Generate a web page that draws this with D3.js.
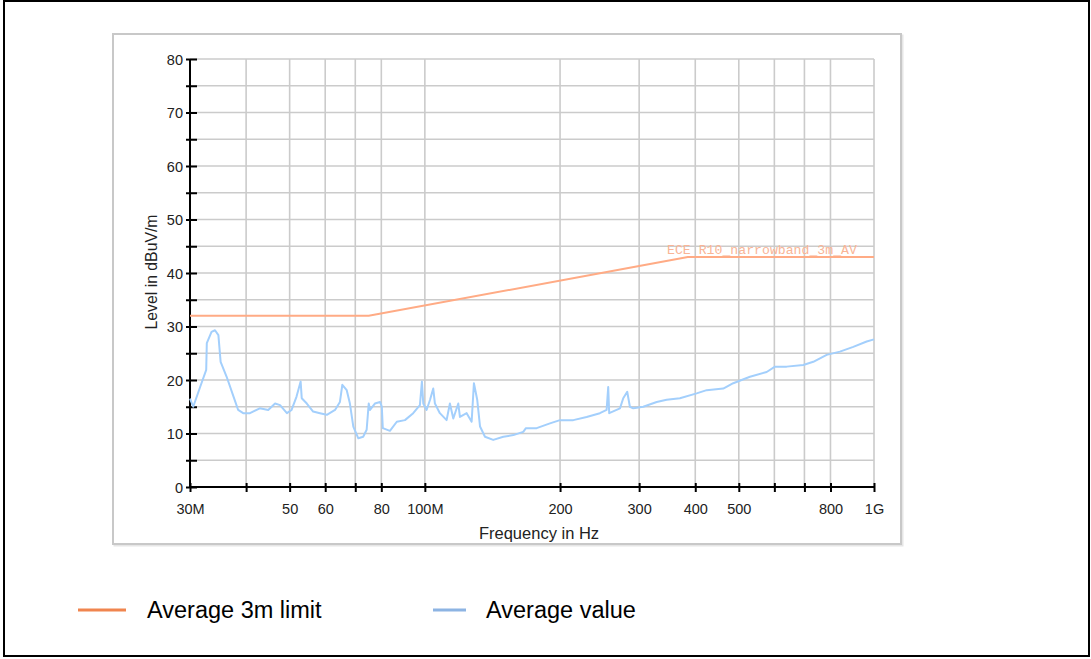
<!DOCTYPE html>
<html>
<head>
<meta charset="utf-8">
<script src="https://cdn.jsdelivr.net/npm/d3@7"></script>
<style>
  body { margin: 0; background: #fff; }
  svg { display: block; font-family: Arial, "Liberation Sans", sans-serif; }
</style>
</head>
<body>
<svg id="chart" width="1091" height="659"></svg>
<script>
// frequency in MHz / level in dBuV/m
var avgFreq = [30, 30.5, 31.6, 32.6, 32.7, 33.5, 34.1, 34.7, 35.1, 36.2, 37.5, 38.4, 39.4, 40.8, 42.9, 44.8,
  46.4, 47.6, 49.3, 50.5, 51.8, 52.9, 53.2, 54.6, 56.4, 58.4, 60.5, 63.1, 64.7, 65.5, 67.0, 68.1, 69.3,
  71.1, 72.9, 74.2, 75.0, 75.5, 77.4, 79.5, 80.2, 80.6, 83.6, 86.6, 90.3, 94.2, 97.5, 98.5, 99.2, 100.9,
  102.7, 104.4, 105.3, 108.0, 111.8, 113.7, 115.7, 118.7, 119.7, 123.9, 127.1, 128.6, 130.8, 132.7,
  136.1, 142.0, 149.5, 157.4, 165.6, 167.9, 177.4, 189.9, 199.9, 214.0, 229.2, 245.3, 253.9, 256.0,
  257.3, 271.9, 276.5, 282.2, 286.1, 291.1, 306.4, 328.2, 345.4, 369.7, 402.8, 424.1, 461.7, 486.0,
  529.5, 576.8, 601.9, 639.1, 695.9, 732.5, 784.6, 839.7, 899.2, 963.1, 1000];
var avgLevel = [16.5, 15.0, 18.7, 21.9, 26.9, 29.0, 29.3, 28.4, 23.4, 20.6, 16.9, 14.4, 13.8, 13.8, 14.7, 14.4,
  15.6, 15.3, 13.8, 14.4, 16.9, 19.7, 16.6, 15.6, 14.1, 13.8, 13.5, 14.4, 15.9, 19.1, 18.1, 15.6, 11.3,
  9.1, 9.4, 10.7, 15.6, 14.4, 15.6, 15.9, 15.0, 11.0, 10.5, 12.2, 12.5, 13.8, 15.3, 19.7, 15.6, 14.4,
  16.3, 18.4, 15.6, 13.8, 12.5, 15.6, 12.8, 15.6, 13.1, 13.8, 12.2, 19.4, 16.3, 11.3,
  9.4, 8.8, 9.4, 9.7, 10.3, 11.0, 11.0, 11.9, 12.5, 12.5, 13.1, 13.8, 14.4, 18.7,
  13.8, 14.7, 16.6, 17.8, 15.0, 14.7, 15.0, 15.9, 16.3, 16.6, 17.5, 18.1, 18.4, 19.4,
  20.6, 21.5, 22.5, 22.5, 22.8, 23.4, 24.7, 25.3, 26.2, 27.2, 27.6];

var limitFreq = [30, 75, 300, 385, 1000];
var limitLevel = [32, 32, 41.3, 43, 43];
var limitName = "ECE R10_narrowband_3m_AV";

var xTicks = [30, 40, 50, 60, 70, 80, 100, 200, 300, 400, 500, 600, 700, 800, 1000];
var xTickLabels = {30: "30M", 50: "50", 60: "60", 80: "80", 100: "100M", 200: "200", 300: "300",
  400: "400", 500: "500", 800: "800", 1000: "1G"};
var yTicks = d3.range(0, 81, 5);

var legendNames = ["Average 3m limit", "Average value"];
var legendColors = ["#f0854f", "#8db4e3"];

var svg = d3.select("#chart");

// outer border
svg.append("rect")
  .attr("x", 4).attr("y", 1).attr("width", 1085).attr("height", 655)
  .attr("fill", "none").attr("stroke", "#000").attr("stroke-width", 2);

// chart frame
svg.append("rect")
  .attr("x", 114.5).attr("y", 35.5).attr("width", 788).attr("height", 510)
  .attr("fill", "none").attr("stroke", "#e6e6e6").attr("stroke-width", 2);
svg.append("rect")
  .attr("x", 113).attr("y", 34).attr("width", 788).attr("height", 510)
  .attr("fill", "#fff").attr("stroke", "#c8c8c8").attr("stroke-width", 2);

var x = d3.scaleLog().domain([30, 1000]).range([190, 874]);
var y = d3.scaleLinear().domain([0, 80]).range([487, 59]);

// grid
var grid = svg.append("g").attr("stroke", "#cbcbcb").attr("stroke-width", 1.6);
grid.selectAll(".vg")
  .data(xTicks.slice(1))
  .enter().append("line")
  .attr("x1", function(d) { return x(d); }).attr("x2", function(d) { return x(d); })
  .attr("y1", y(80)).attr("y2", y(0));
grid.selectAll(".hg")
  .data(yTicks.slice(1))
  .enter().append("line")
  .attr("x1", x(30)).attr("x2", x(1000))
  .attr("y1", function(d) { return y(d); }).attr("y2", function(d) { return y(d); });

// axes
var yAxis = svg.append("g")
  .attr("transform", "translate(" + x(30) + ",0)")
  .call(d3.axisLeft(y).tickValues(yTicks).tickSize(4).tickPadding(3)
    .tickFormat(function(d) { return d % 10 === 0 ? d : ""; }));
yAxis.selectAll(".tick line").attr("x1", -4).attr("x2", 7).attr("stroke-width", 2);
yAxis.select(".domain").attr("stroke-width", 2).attr("d", "M0," + y(80) + "V" + y(0));
yAxis.selectAll("text").attr("font-size", 14.5).attr("fill", "#222").attr("dy", "0.36em");

var xAxis = svg.append("g")
  .attr("transform", "translate(0," + y(0) + ")")
  .call(d3.axisBottom(x).tickValues(xTicks).tickSize(5).tickPadding(12)
    .tickFormat(function(d) { return xTickLabels[d] || ""; }));
xAxis.selectAll(".tick line").attr("y1", -4).attr("y2", 5).attr("stroke-width", 2);
xAxis.select(".domain").attr("stroke-width", 2).attr("d", "M" + x(30) + ",0H" + x(1000));
xAxis.selectAll("text").attr("font-size", 14.5).attr("fill", "#222");

svg.append("text")
  .attr("transform", "translate(157,272) rotate(-90)")
  .attr("text-anchor", "middle")
  .attr("font-size", 15.8).attr("fill", "#222")
  .text("Level in dBuV/m");

svg.append("text")
  .attr("x", 539).attr("y", 539)
  .attr("text-anchor", "middle")
  .attr("font-size", 16.5).attr("fill", "#222")
  .text("Frequency in Hz");

// series
var line = d3.line()
  .x(function(d) { return x(d[0]); })
  .y(function(d) { return y(d[1]); });

svg.append("path")
  .datum(limitFreq.map(function(f, i) { return [f, limitLevel[i]]; }))
  .attr("d", line)
  .attr("fill", "none").attr("stroke", "#ffab85").attr("stroke-width", 2);

svg.append("text")
  .attr("x", 667).attr("y", 254)
  .attr("font-family", "'Liberation Mono', monospace")
  .attr("font-size", 13.2).attr("fill", "#f9b596")
  .text(limitName);

svg.append("path")
  .datum(avgFreq.map(function(f, i) { return [f, avgLevel[i]]; }))
  .attr("d", line)
  .attr("fill", "none").attr("stroke", "#a3cffc").attr("stroke-width", 2)
  .attr("stroke-linejoin", "round");

// legend
var legendX = [78, 433];
var legend = svg.selectAll(".legend")
  .data(legendNames)
  .enter().append("g")
  .attr("transform", function(d, i) { return "translate(" + legendX[i] + ",610)"; });
legend.append("line")
  .attr("x1", 0).attr("x2", function(d, i) { return i === 0 ? 48 : 33; })
  .attr("stroke", function(d, i) { return legendColors[i]; })
  .attr("stroke-width", 3);
legend.append("text")
  .attr("x", function(d, i) { return i === 0 ? 69 : 53; })
  .attr("y", 8)
  .attr("font-size", 23.5).attr("fill", "#000")
  .text(function(d) { return d; });
</script>
</body>
</html>
